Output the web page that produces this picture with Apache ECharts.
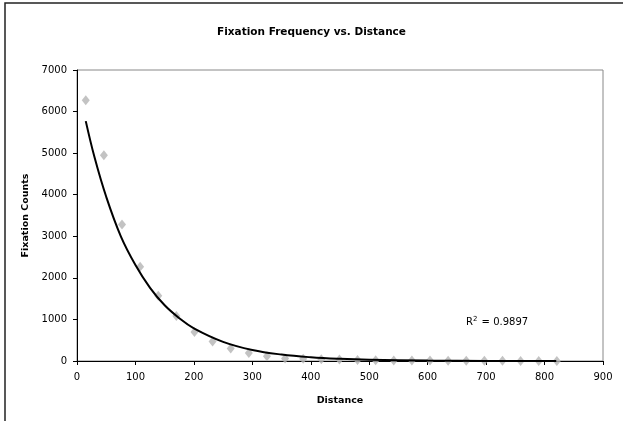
<!DOCTYPE html>
<html><head><meta charset="utf-8">
<script src="https://cdn.jsdelivr.net/npm/echarts@6/dist/echarts.min.js"></script>
<style>html,body{margin:0;padding:0;background:#fff}#c{width:623px;height:421px}</style>
</head><body><div id="c"></div>
<script>
var distance = [15,46,77,108,139,170,201,232,263,294,325,356,387,418,449,480,511,542,573,604,635,666,697,728,759,790,821];
var counts = [6270,4950,3285,2265,1570,1085,700,470,300,190,115,60,55,40,35,25,20,15,12,10,8,6,5,4,3,2,2];
var trendX = [15,30,50,75,100,125,150,175,200,250,300,350,400,450,500,600,700,820];
var trendY = [5770,4900,3950,3000,2310,1760,1340,1030,785,460,265,155,90,52,30,10,3,1];
var xTicks = {min:0,max:900,interval:100};
var yTicks = {min:0,max:7000,interval:1000};
var rSquared = '0.9897';

var pts = distance.map(function(d,i){return [d,counts[i]];});
var trend = trendX.map(function(d,i){return [d,trendY[i]];});
var font = 'DejaVu Sans';
var chart = echarts.init(document.getElementById('c'));
chart.setOption({
  animation:false,
  backgroundColor:'#fff',
  title:{text:'Fixation Frequency vs. Distance',left:'center',top:22,
    textStyle:{fontFamily:font,fontSize:10.5,fontWeight:'bold',color:'#000'}},
  grid:{left:77,right:20,top:70,bottom:60,show:true,borderColor:'#888',borderWidth:1},
  xAxis:{type:'value',min:xTicks.min,max:xTicks.max,interval:xTicks.interval,
    name:'Distance',nameLocation:'middle',nameGap:35,
    nameTextStyle:{fontFamily:font,fontSize:9.5,fontWeight:'bold',color:'#000'},
    axisLine:{lineStyle:{color:'#000'}},axisTick:{length:4,lineStyle:{color:'#000'}},
    axisLabel:{fontFamily:font,fontSize:10,color:'#000',margin:11,formatter:function(v){return String(v);}},splitLine:{show:false}},
  yAxis:{type:'value',min:yTicks.min,max:yTicks.max,interval:yTicks.interval,
    name:'Fixation Counts',nameLocation:'middle',nameGap:39,
    nameTextStyle:{fontFamily:font,fontSize:9.5,fontWeight:'bold',color:'#000'},
    axisLine:{show:true,lineStyle:{color:'#000'}},axisTick:{show:true,length:4,lineStyle:{color:'#000'}},
    axisLabel:{fontFamily:font,fontSize:10,color:'#000',margin:10,formatter:function(v){return String(v);}},splitLine:{show:false}},
  series:[
    {type:'scatter',data:pts,symbol:'diamond',symbolSize:[8,10],
      itemStyle:{color:'#b4b4b4'},z:2},
    {type:'line',data:trend,smooth:0.4,showSymbol:false,
      lineStyle:{color:'#000',width:2},z:3}
  ],
  graphic:[
    {type:'rect',shape:{x:5,y:3,width:800,height:600},style:{fill:'none',stroke:'#222',lineWidth:1.5},silent:true},
    {type:'text',left:466,top:316,style:{text:'R{s|2} = '+rSquared,
      rich:{s:{fontSize:7,verticalAlign:'top',padding:[0,1,6,0],fontFamily:font}},
      fontFamily:font,fontSize:10,fill:'#000'}}
  ]
});
</script></body></html>
